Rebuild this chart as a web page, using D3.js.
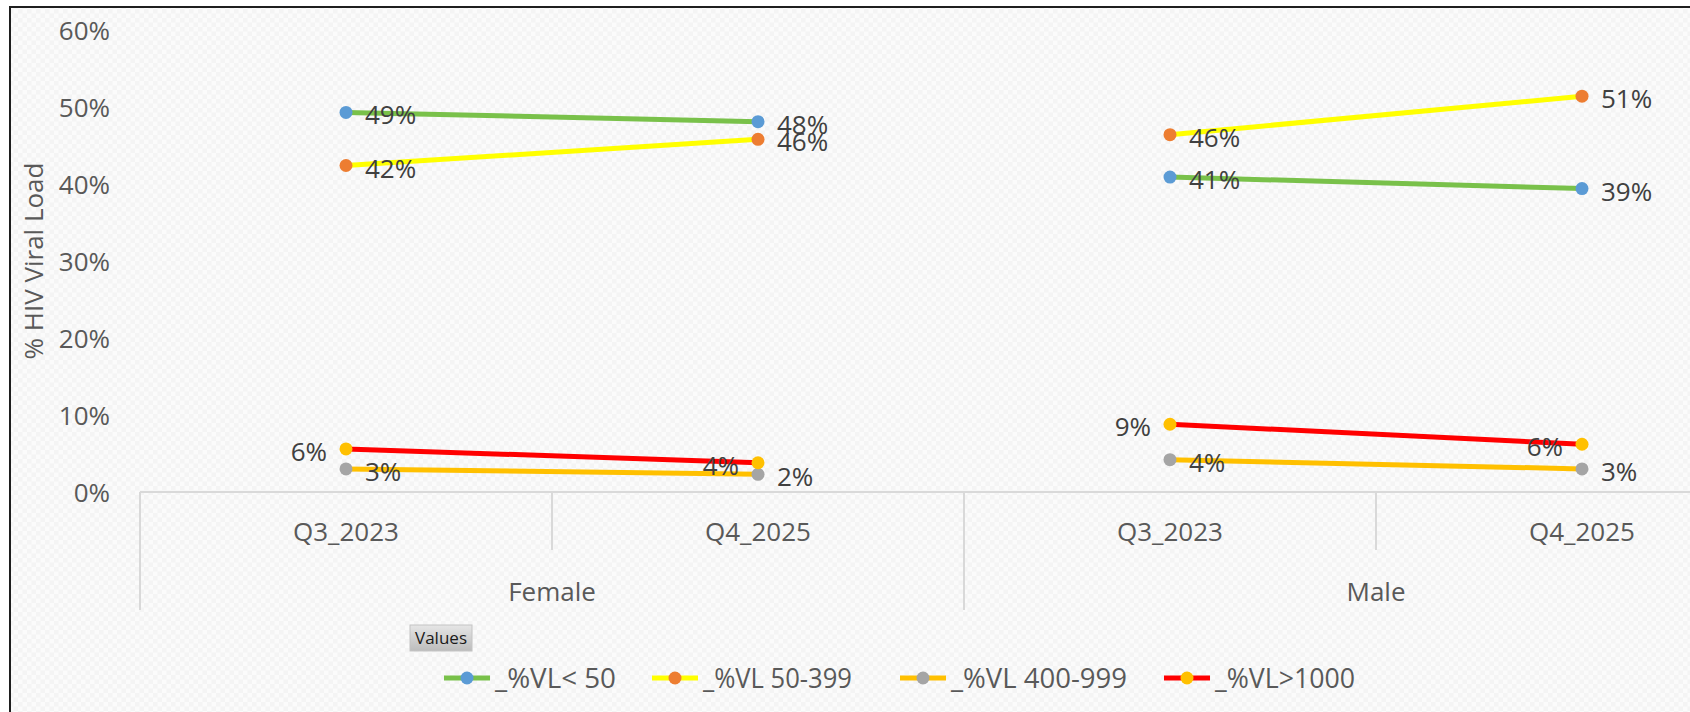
<!DOCTYPE html>
<html lang="en">
  <head>
    <meta charset="utf-8">
    <title>% HIV Viral Load by sex and quarter</title>
    <script src="https://d3js.org/d3.v7.min.js"></script>
    <style type="text/css">
      body { margin: 0; background: #ffffff; }
      svg { display: block; font-family: "Open Sans", "DejaVu Sans", sans-serif; }
    </style>
  </head>
  <body>
    <div id="chart"></div>
    <script type="text/javascript">
      // data (order: Female Q3, Female Q4, Male Q3, Male Q4)
      var groups = ["Female", "Male"];
      var periods = ["Q3_2023", "Q4_2025"];
      var seriesNames = ["_%VL< 50", "_%VL 50-399", "_%VL 400-999", "_%VL>1000"];
      var vlUnder50 = [49.3, 48.1, 40.9, 39.4];
      var vl50to399 = [42.4, 45.8, 46.4, 51.4];
      var vl400to999 = [3.0, 2.3, 4.2, 3.0];
      var vlOver1000 = [5.6, 3.8, 8.8, 6.2];
      var yTicks = [0, 10, 20, 30, 40, 50, 60];

      var lineColors = ["#79c14a", "#ffff00", "#ffc000", "#ff0000"];
      var markerColors = ["#5b9bd5", "#ed7d31", "#a5a5a5", "#ffc000"];
      var labelLeft = [false, false, false, true];

      var W = 1690, H = 712;
      var svg = d3.select("#chart").append("svg").attr("width", W).attr("height", H);

      // faint checker background like the screenshot
      var defs = svg.append("defs");
      var pat = defs.append("pattern").attr("id", "chk").attr("width", 9).attr("height", 9)
        .attr("patternUnits", "userSpaceOnUse");
      pat.append("rect").attr("width", 9).attr("height", 9).attr("fill", "#fbfbfb");
      pat.append("rect").attr("width", 4.5).attr("height", 4.5).attr("fill", "#f4f4f4");
      pat.append("rect").attr("x", 4.5).attr("y", 4.5).attr("width", 4.5).attr("height", 4.5).attr("fill", "#f4f4f4");
      var grad = defs.append("linearGradient").attr("id", "btn").attr("x1", 0).attr("y1", 0).attr("x2", 0).attr("y2", 1);
      grad.append("stop").attr("offset", "0%").attr("stop-color", "#e6e6e6");
      grad.append("stop").attr("offset", "100%").attr("stop-color", "#bcbcbc");

      svg.append("rect").attr("x", 10).attr("y", 7).attr("width", W - 10).attr("height", H - 7).attr("fill", "url(#chk)");
      svg.append("path").attr("d", "M10," + H + "V7H" + W).attr("fill", "none")
        .attr("stroke", "#1e1e1e").attr("stroke-width", 2);

      var keys = [];
      groups.forEach(function (g) { periods.forEach(function (p) { keys.push(g + "|" + p); }); });

      var x = d3.scaleBand().domain(keys).range([140, 1788]).padding(0);
      var gx = d3.scaleBand().domain(groups).range([140, 1788]).padding(0);
      var y = d3.scaleLinear().domain([0, 60]).range([492, 30]);
      var base = y(0);

      // y axis labels
      var yAxis = svg.append("g").attr("transform", "translate(110,0)")
        .call(d3.axisLeft(y).tickValues(yTicks).tickSize(0).tickPadding(0).tickFormat(function (d) { return d + "%"; }));
      yAxis.select(".domain").remove();
      yAxis.selectAll("text").attr("font-size", 26).attr("fill", "#595959")
        .attr("font-family", "Open Sans, sans-serif").attr("dy", "0.35em");

      svg.append("text").attr("transform", "translate(43,261) rotate(-90)")
        .attr("text-anchor", "middle").attr("font-size", 26).attr("fill", "#595959")
        .text("% HIV Viral Load");

      // category axis: baseline, divider ticks, labels
      var axisColor = "#d9d9d9";
      svg.append("line").attr("x1", 140).attr("x2", W).attr("y1", base).attr("y2", base)
        .attr("stroke", axisColor).attr("stroke-width", 2);
      keys.forEach(function (k, i) {
        var isGroupEdge = k.split("|")[1] === periods[0];
        svg.append("line").attr("x1", x(k)).attr("x2", x(k)).attr("y1", base)
          .attr("y2", isGroupEdge ? 610 : 550).attr("stroke", axisColor).attr("stroke-width", 2);
        svg.append("text").attr("x", x(k) + x.bandwidth() / 2).attr("y", 532)
          .attr("text-anchor", "middle").attr("dy", "0.35em").attr("font-size", 26).attr("fill", "#595959")
          .text(k.split("|")[1]);
      });
      groups.forEach(function (g) {
        svg.append("text").attr("x", gx(g) + gx.bandwidth() / 2).attr("y", 592)
          .attr("text-anchor", "middle").attr("dy", "0.35em").attr("font-size", 26).attr("fill", "#595959")
          .text(g);
      });

      // series lines, markers, labels
      var seriesVals = [vlUnder50, vl50to399, vl400to999, vlOver1000];
      var cx = function (i) { return x(keys[i]) + x.bandwidth() / 2; };
      var line = d3.line().x(function (d) { return cx(d.i); }).y(function (d) { return y(d.v); });

      var plot = svg.append("g");
      seriesVals.forEach(function (vals, s) {
        groups.forEach(function (g, gi) {
          var pts = [0, 1].map(function (p) { var i = gi * 2 + p; return { i: i, v: vals[i] }; });
          plot.append("path").datum(pts).attr("d", line).attr("fill", "none")
            .attr("stroke", lineColors[s]).attr("stroke-width", 5);
        });
      });
      seriesVals.forEach(function (vals, s) {
        vals.forEach(function (v, i) {
          plot.append("circle").attr("cx", cx(i)).attr("cy", y(v)).attr("r", 6.5).attr("fill", markerColors[s]);
        });
      });
      seriesVals.forEach(function (vals, s) {
        vals.forEach(function (v, i) {
          plot.append("text")
            .attr("x", labelLeft[s] ? cx(i) - 19 : cx(i) + 19)
            .attr("y", y(v) + 3)
            .attr("dy", "0.35em")
            .attr("text-anchor", labelLeft[s] ? "end" : "start")
            .attr("font-size", 26).attr("fill", "#404040")
            .text(Math.round(v) + "%");
        });
      });

      // "Values" field button
      svg.append("rect").attr("x", 410).attr("y", 625).attr("width", 62).attr("height", 26)
        .attr("fill", "url(#btn)").attr("stroke", "#c4c4c4");
      svg.append("text").attr("x", 441).attr("y", 638).attr("dy", "0.35em").attr("text-anchor", "middle")
        .attr("font-size", 17).attr("fill", "#1a1a1a").attr("textLength", 52).attr("lengthAdjust", "spacingAndGlyphs")
        .text("Values");

      // legend
      var legX = [444, 652, 900, 1164];
      var legW = [121, 149, 176, 140];
      var legY = 678;
      var leg = svg.append("g");
      seriesNames.forEach(function (name, s) {
        leg.append("line").attr("x1", legX[s]).attr("x2", legX[s] + 46).attr("y1", legY).attr("y2", legY)
          .attr("stroke", lineColors[s]).attr("stroke-width", 5);
        leg.append("circle").attr("cx", legX[s] + 23).attr("cy", legY).attr("r", 6.5).attr("fill", markerColors[s]);
        leg.append("text").attr("x", legX[s] + 51).attr("y", legY).attr("dy", "0.35em")
          .attr("font-size", 28).attr("fill", "#595959")
          .attr("textLength", legW[s]).attr("lengthAdjust", "spacingAndGlyphs")
          .text(name);
      });
    </script>
  </body>
</html>
